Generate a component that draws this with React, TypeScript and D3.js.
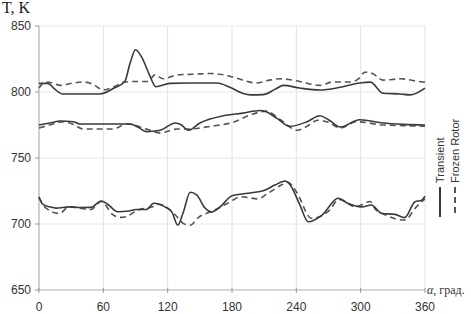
import React from "react";
import * as d3 from "d3";

const xTicks = [0, 60, 120, 180, 240, 300, 360];
const yTicks = [650, 700, 750, 800, 850];

const topTransientA = [0, 8, 15, 22, 40, 57, 70, 80, 85, 90, 96, 103, 109, 122, 140, 166, 178, 190, 197, 209, 220, 228, 243, 262, 281, 299, 309, 321, 337, 346, 360];
const topTransientV = [806.5, 806.5, 802, 798.5, 798.5, 798.5, 803, 808, 822, 832, 826, 813, 804, 806.5, 806.8, 806.8, 803.6, 799, 797.8, 798, 802, 805, 803, 801.5, 803.6, 806.8, 807.5, 799, 798.5, 797.8, 803];

const topFrozenA = [0, 6, 12, 20, 30, 41, 50, 60, 70, 80, 90, 102, 108, 116, 129, 145, 160, 178, 190, 203, 215, 225, 243, 262, 274, 290, 298, 304, 311, 321, 337, 358, 360];
const topFrozenV = [803, 807.6, 807, 805, 806.5, 807.6, 806, 801.5, 804, 807.6, 808, 808, 813, 810, 813, 813.5, 814, 812, 809, 806.8, 809, 810, 808, 805, 807.6, 807.6, 810, 815, 814, 809, 810, 807.6, 807.5];

const midTransientA = [0, 10, 20, 32, 38, 60, 85, 93, 100, 113, 127, 133, 139, 150, 172, 190, 206, 212, 222, 234, 250, 262, 270, 281, 299, 321, 340, 360];
const midTransientV = [775, 776.5, 778, 777.5, 775.8, 775.8, 775.8, 773, 770, 771, 776.5, 775, 771, 776.5, 782, 784, 786, 785, 780, 774, 777.5, 782, 779, 773.5, 779, 776.5, 775.5, 775];

const midFrozenA = [0, 10, 23, 33, 41, 69, 82, 100, 113, 129, 140, 160, 181, 197, 212, 225, 241, 250, 260, 270, 281, 296, 321, 340, 360];
const midFrozenV = [772.7, 775, 777.5, 775, 772, 772, 775.8, 772, 769, 772, 772, 774, 777, 782.6, 785.5, 779, 771, 774, 778.6, 777, 772.7, 777.5, 775, 774.5, 774];

const lowTransientA = [0, 3.4, 10, 16, 28, 37, 48.5, 58, 64, 73.4, 84, 90.5, 100, 107, 112, 117.5, 124, 129.4, 134.6, 141, 147, 155, 161, 169, 180, 195, 211, 220, 229.4, 234, 243, 251, 264, 279, 288, 301, 310, 319.6, 332, 341, 350.7, 357, 360];
const lowTransientV = [720.7, 715, 713, 712, 713, 712.5, 712.6, 717.4, 715, 709.3, 709.8, 711, 711, 715.7, 715, 713, 709, 699.2, 709, 724, 722, 712, 709, 713, 721.4, 723.3, 725.8, 729.5, 732.6, 730, 715, 701.7, 706.8, 719.5, 715.7, 713, 714.4, 708, 707.3, 704.8, 716.9, 718, 721];

const lowFrozenA = [0, 6.5, 19, 28, 48.5, 58, 69, 76.5, 82.7, 90.5, 106, 112, 120, 127, 134.5, 141, 148, 164, 176, 189, 204, 213.6, 226, 232, 240, 254, 269.5, 280, 295, 309, 313, 322.7, 341, 352, 360];
const lowFrozenV = [720, 712, 708, 713, 711, 717, 707, 705, 706, 710, 713, 715, 712, 707, 700.5, 699, 704.5, 710.6, 715.7, 720.7, 719, 723.3, 729.5, 731.6, 724.5, 704.3, 709.3, 718.6, 713, 717, 712, 707, 703, 713, 719];

const transientSeries = [
  [topTransientA, topTransientV],
  [midTransientA, midTransientV],
  [lowTransientA, lowTransientV],
];
const frozenSeries = [
  [topFrozenA, topFrozenV],
  [midFrozenA, midFrozenV],
  [lowFrozenA, lowFrozenV],
];

export default function App() {
  const W = 471, H = 314;
  const x = d3.scaleLinear().domain([0, 360]).range([39, 425]);
  const y = d3.scaleLinear().domain([650, 850]).range([290, 26]);
  const line = d3
    .line<[number, number]>()
    .x((d) => x(d[0]))
    .y((d) => y(d[1]))
    .curve(d3.curveMonotoneX);
  const pts = (a: number[], v: number[]) => a.map((t, i) => [t, v[i]] as [number, number]);
  const sans = "Arial, 'Liberation Sans', sans-serif";
  const serif = "'Times New Roman', 'Liberation Serif', serif";
  return (
    <svg width={W} height={H} style={{ position: "absolute", left: 0, top: 0, background: "#fff" }}>
      {/* grid */}
      {xTicks.slice(1).map((t) => (
        <line key={"gx" + t} x1={x(t)} x2={x(t)} y1={y(850)} y2={y(650)} stroke="#e2e2e2" strokeWidth={1} />
      ))}
      {yTicks.slice(1).map((t) => (
        <line key={"gy" + t} x1={x(0)} x2={x(360)} y1={y(t)} y2={y(t)} stroke="#e6e6e6" strokeWidth={1} />
      ))}
      {/* axes */}
      <line x1={x(0)} x2={x(0)} y1={y(850)} y2={y(650)} stroke="#b0b0b0" strokeWidth={1.2} />
      <line x1={x(0)} x2={x(360)} y1={y(650)} y2={y(650)} stroke="#b0b0b0" strokeWidth={1.2} />
      {yTicks.map((t) => (
        <g key={"yt" + t}>
          <line x1={x(0) - 4} x2={x(0)} y1={y(t)} y2={y(t)} stroke="#999" />
          <text x={31} y={y(t)} dy="0.35em" textAnchor="end" fontFamily={sans} fontSize={12} fill="#333">
            {t}
          </text>
        </g>
      ))}
      {xTicks.map((t) => (
        <g key={"xt" + t}>
          <line x1={x(t)} x2={x(t)} y1={y(650) - 2} y2={y(650) + 3} stroke="#999" />
          <text x={x(t)} y={307} dy="0.35em" textAnchor="middle" fontFamily={sans} fontSize={12} fill="#333">
            {t}
          </text>
        </g>
      ))}
      {/* series */}
      {frozenSeries.map(([a, v], i) => (
        <path key={"f" + i} d={line(pts(a, v)) || ""} fill="none" stroke="#555" strokeWidth={1.6} strokeDasharray="6,4" />
      ))}
      {transientSeries.map(([a, v], i) => (
        <path key={"t" + i} d={line(pts(a, v)) || ""} fill="none" stroke="#3a3a3a" strokeWidth={1.6} />
      ))}
      {/* titles */}
      <text x={2} y={13} fontFamily={serif} fontSize={16} fill="#222">T, K</text>
      <text x={427} y={294} fontFamily={serif} fontSize={12} fill="#333">
        <tspan fontStyle="italic">α</tspan>, град.
      </text>
      {/* legend */}
      <text transform="translate(444,183) rotate(-90)" fontFamily={sans} fontSize={11} fill="#333">Transient</text>
      <text transform="translate(459,183) rotate(-90)" fontFamily={sans} fontSize={11} fill="#333">Frozen Rotor</text>
      <line x1={440} x2={440} y1={187} y2={217} stroke="#3a3a3a" strokeWidth={2} />
      <line x1={455} x2={455} y1={187} y2={217} stroke="#555" strokeWidth={2} strokeDasharray="6,4" />
    </svg>
  );
}
